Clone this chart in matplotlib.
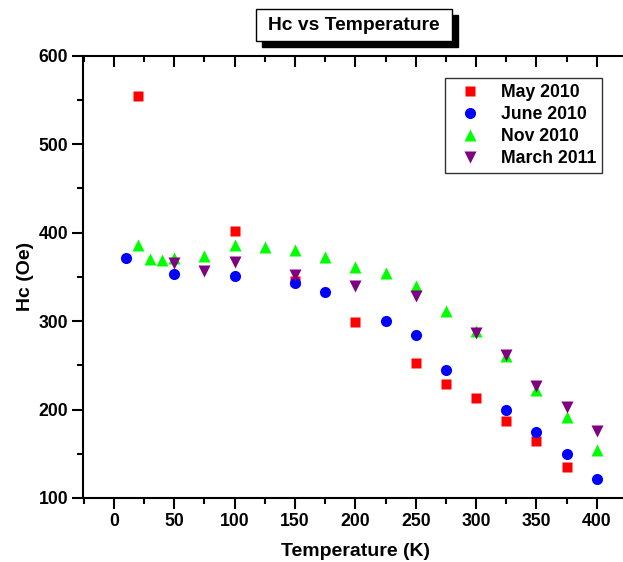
"""Hc vs Temperature scatter, four measurement runs."""

import matplotlib

matplotlib.use("Agg")
import matplotlib.pyplot as plt
from matplotlib.patches import Rectangle
from matplotlib.ticker import MultipleLocator

plt.rcParams["font.family"] = ["Liberation Sans", "DejaVu Sans"]
plt.rcParams["font.weight"] = "bold"

# May 2010
may_t = [20, 100, 150, 200, 250, 275, 300, 325, 350, 375]
may_hc = [554, 402, 345, 299, 253, 229, 213, 187, 164, 135]

# June 2010
jun_t = [10, 50, 100, 150, 175, 225, 250, 275, 325, 350, 375, 400]
jun_hc = [371, 353, 351, 343, 333, 300, 284, 245, 199, 175, 150, 121]

# Nov 2010
nov_t = [20, 30, 40, 50, 75, 100, 125, 150, 175, 200, 225, 250, 275, 300,
         325, 350, 375, 400]
nov_hc = [386, 370, 369, 371, 374, 386, 384, 380, 372, 361, 354, 340, 311,
          289, 261, 222, 191, 154]

# March 2011
mar_t = [50, 75, 100, 150, 200, 250, 300, 325, 350, 375, 400]
mar_hc = [366, 357, 367, 352, 340, 328, 287, 262, 227, 203, 176]

fig = plt.figure(figsize=(6.23, 5.62), dpi=100)
# right spine sits just past the canvas edge, as in the original export
ax = fig.add_axes([0.1337, 0.1139, 0.8726, 0.787])

ax.plot(may_t, may_hc, "s", color="#ff0000", ms=7.2, mec="none", label="May 2010")
ax.plot(jun_t, jun_hc, "o", color="#0000ff", ms=8, mec="none", label="June 2010")
ax.plot(nov_t, nov_hc, "^", color="#00ff00", ms=9, mec="none", label="Nov 2010")
ax.plot(mar_t, mar_hc, "v", color="#800080", ms=9, mec="none", label="March 2011")

ax.set_xlim(-25.4, 425)
ax.set_ylim(100, 600)
ax.xaxis.set_major_locator(MultipleLocator(50))
ax.xaxis.set_minor_locator(MultipleLocator(25))
ax.yaxis.set_major_locator(MultipleLocator(100))
ax.yaxis.set_minor_locator(MultipleLocator(50))

for side in ax.spines.values():
    side.set_linewidth(1.5)
ax.tick_params(which="both", width=1.5, labelsize=12.7, top=True, right=True,
               direction="out")
ax.tick_params(which="major", length=8, pad=3)
ax.tick_params(which="minor", length=4)
# Origin style: top/right ticks point inward
for tick in ax.xaxis.get_major_ticks() + ax.xaxis.get_minor_ticks():
    tick.tick2line.set_marker(3)
for tick in ax.yaxis.get_major_ticks() + ax.yaxis.get_minor_ticks():
    tick.tick2line.set_marker(1)

ax.set_xlabel("Temperature (K)", fontsize=14, fontweight="bold", labelpad=9)
ax.set_ylabel("Hc (Oe)", fontsize=14, fontweight="bold", labelpad=3)

leg = ax.legend(loc="upper right", bbox_to_anchor=(0.955, 0.9496), fontsize=12.7,
                frameon=True, fancybox=False, edgecolor="black",
                handletextpad=0.7, borderpad=0.35, labelspacing=0.28,
                handlelength=2.1, borderaxespad=0)
leg.get_frame().set_linewidth(1.0)

# title box with a solid drop shadow
fig.add_artist(Rectangle((0.4205, 0.9169), 0.3146, 0.0559, transform=fig.transFigure,
                         fc="black", ec="black", lw=1))
fig.add_artist(Rectangle((0.411, 0.9276), 0.3146, 0.0559, transform=fig.transFigure,
                         fc="white", ec="black", lw=1))
fig.text(0.568, 0.9555, "Hc vs Temperature", ha="center", va="center",
         fontsize=13.9, fontweight="bold")

fig.savefig("out.png", dpi=100)
